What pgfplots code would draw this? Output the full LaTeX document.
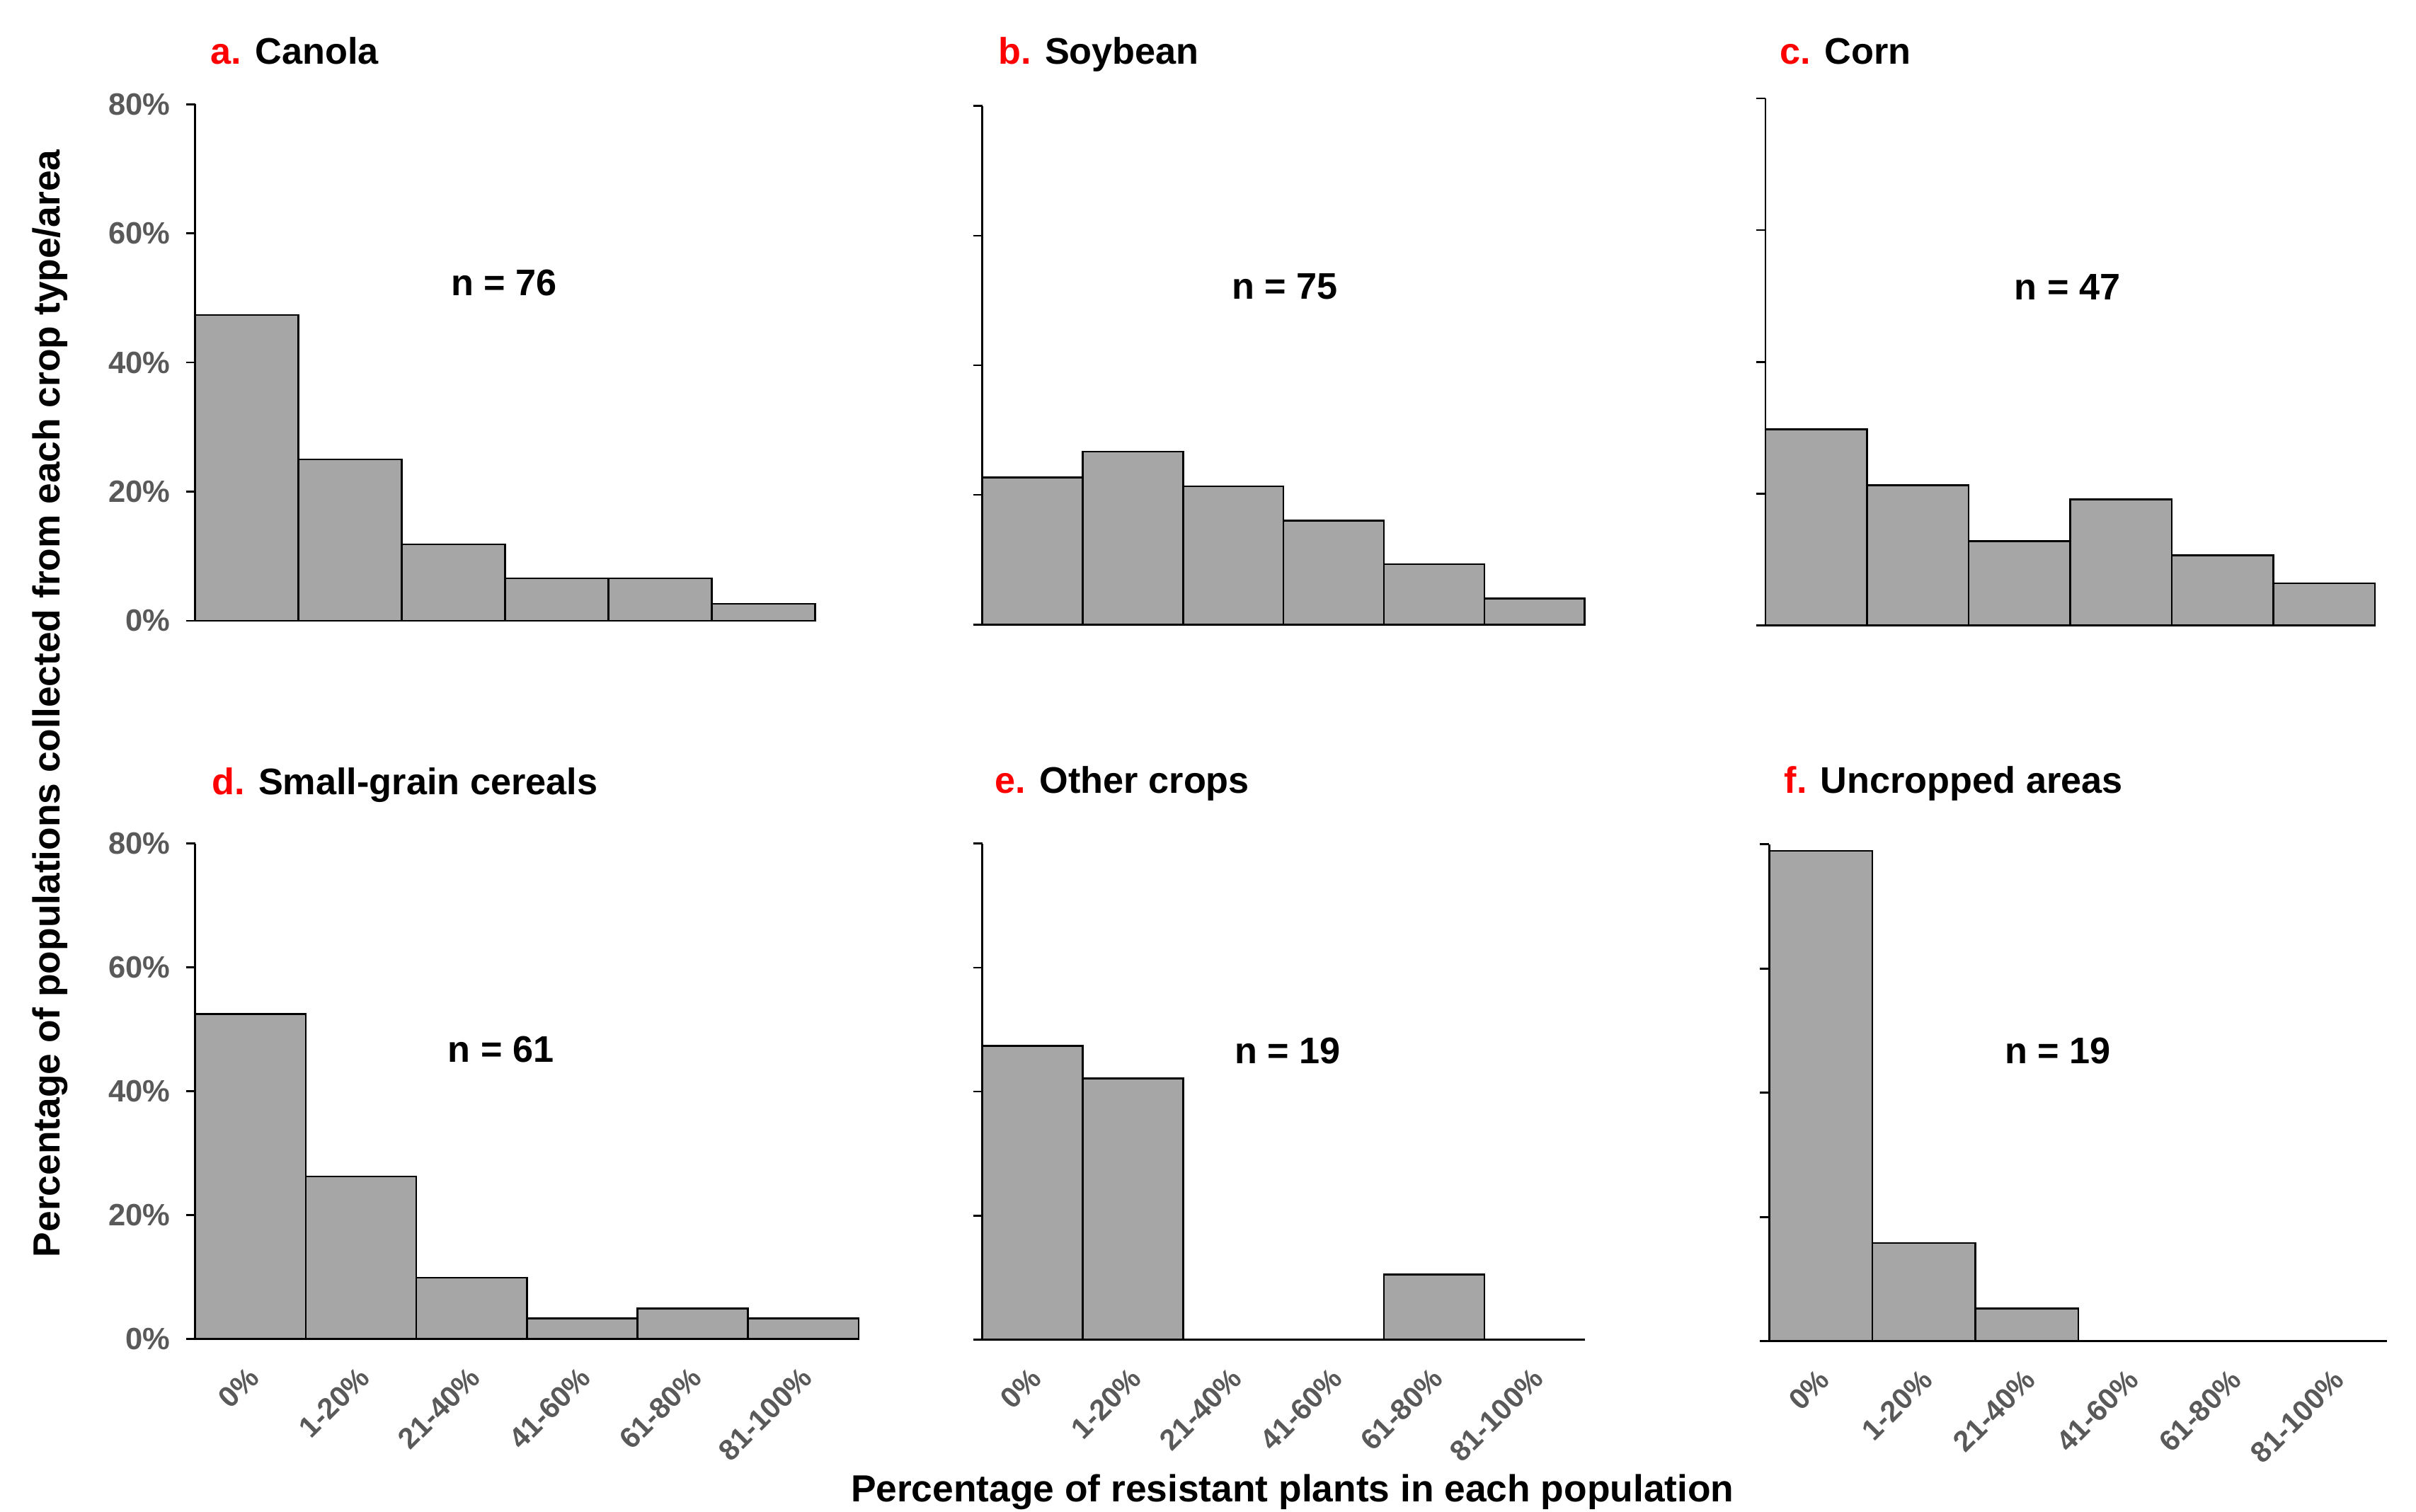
\documentclass[border=0pt]{standalone}
\usepackage{fontspec}
\setmainfont{Liberation Sans}
\usepackage{pgfplots}
\pgfplotsset{compat=1.18}
\definecolor{barfill}{HTML}{A6A6A6}
\definecolor{tickgray}{HTML}{595959}
\definecolor{lettred}{HTML}{FF0000}
\pgfplotsset{
  panel/.style={
    scale only axis, anchor=south west,
    xmin=0, xmax=6, ymin=0, ymax=80,
    axis lines=left, axis line style={-, line width=0.6pt, black},
    clip=false,
    ytick={0,20,40,60,80}, yticklabels={},
    tick align=outside, major tick length=3pt,
    tick style={line width=0.6pt, black},
    major x tick style={draw=none},
    xtick=\empty,
    yticklabel style={font=\fontsize{10}{11}\selectfont\bfseries, text=tickgray, xshift=-1.5pt},
  },
  labeled y/.style={yticklabels={\textbf{0\%},\textbf{20\%},\textbf{40\%},\textbf{60\%},\textbf{80\%}}},
  labeled x/.style={
    xtick={0.5,1.5,2.5,3.5,4.5,5.5},
    xticklabels={\textbf{0\%},\textbf{1-20\%},\textbf{21-40\%},\textbf{41-60\%},\textbf{61-80\%},\textbf{81-100\%}},
    xticklabel style={font=\fontsize{9.5}{10}\selectfont\bfseries, text=tickgray,
      xshift=3.5pt, yshift=-5.5pt, rotate=45, anchor=east},
  },
  bars/.style={ybar, bar width=1, fill=barfill, draw=black, line width=0.6pt},
}
\newcommand{\bigfont}{\fontsize{12}{14}\selectfont\bfseries}
\newcommand{\axfont}{\fontsize{12.25}{14}\selectfont\bfseries}
\begin{document}
\begin{tikzpicture}
\useasboundingbox (0,0) rectangle (784pt,490.43pt);

% a. Canola
\begin{axis}[panel, labeled y, at={(63.3pt,289pt)}, width=201.2pt, height=167.6pt]
\addplot[bars] coordinates {(0.5,47.37) (1.5,25.00) (2.5,11.84) (3.5,6.58) (4.5,6.58) (5.5,2.63)};
\end{axis}
% b. Soybean
\begin{axis}[panel, at={(318.75pt,287.75pt)}, width=195.5pt, height=168.3pt]
\addplot[bars] coordinates {(0.5,22.67) (1.5,26.67) (2.5,21.33) (3.5,16.00) (4.5,9.33) (5.5,4.00)};
\end{axis}
% c. Corn
\begin{axis}[panel, at={(572.9pt,287.5pt)}, width=197.8pt, height=171pt]
\addplot[bars] coordinates {(0.5,29.79) (1.5,21.28) (2.5,12.77) (3.5,19.15) (4.5,10.64) (5.5,6.38)};
\end{axis}
% d. Small-grain cereals
\begin{axis}[panel, labeled y, labeled x, at={(63.3pt,56pt)}, width=215.35pt, height=160.7pt]
\addplot[bars] coordinates {(0.5,52.46) (1.5,26.23) (2.5,9.84) (3.5,3.28) (4.5,4.92) (5.5,3.28)};
\end{axis}
% e. Other crops
\begin{axis}[panel, labeled x, at={(318.75pt,55.7pt)}, width=195.55pt, height=161pt]
\addplot[bars] coordinates {(0.5,47.37) (1.5,42.11) (4.5,10.53)};
\end{axis}
% f. Uncropped areas
\begin{axis}[panel, labeled x, at={(574.15pt,55.2pt)}, width=200.5pt, height=161.25pt]
\addplot[bars] coordinates {(0.5,78.95) (1.5,15.79) (2.5,5.26)};
\end{axis}

% panel titles
\node[anchor=base west, inner sep=0, font=\bigfont] at (68.2pt,469.6pt) {\textcolor{lettred}{a.} Canola};
\node[anchor=base west, inner sep=0, font=\bigfont] at (323.75pt,469.75pt) {\textcolor{lettred}{b.} Soybean};
\node[anchor=base west, inner sep=0, font=\bigfont] at (577.5pt,469.75pt) {\textcolor{lettred}{c.} Corn};
\node[anchor=base west, inner sep=0, font=\bigfont] at (68.55pt,232.6pt) {\textcolor{lettred}{d.} Small-grain cereals};
\node[anchor=base west, inner sep=0, font=\bigfont] at (322.75pt,233pt) {\textcolor{lettred}{e.} Other crops};
\node[anchor=base west, inner sep=0, font=\bigfont] at (578.8pt,233pt) {\textcolor{lettred}{f.} Uncropped areas};

% sample sizes
\node[anchor=base, inner sep=0, font=\bigfont] at (163.55pt,394.45pt) {n = 76};
\node[anchor=base, inner sep=0, font=\bigfont] at (416.9pt,393.45pt) {n = 75};
\node[anchor=base, inner sep=0, font=\bigfont] at (670.9pt,393.1pt) {n = 47};
\node[anchor=base, inner sep=0, font=\bigfont] at (162.55pt,145.65pt) {n = 61};
\node[anchor=base, inner sep=0, font=\bigfont] at (417.8pt,145.2pt) {n = 19};
\node[anchor=base, inner sep=0, font=\bigfont] at (667.8pt,145.2pt) {n = 19};

% axis titles
\node[anchor=base, inner sep=0, rotate=90, font=\axfont] at (19.35pt,262.15pt) {Percentage of populations collected from each crop type/area};
\node[anchor=base, inner sep=0, font=\axfont] at (419.4pt,3pt) {Percentage of resistant plants in each population};
\end{tikzpicture}
\end{document}
